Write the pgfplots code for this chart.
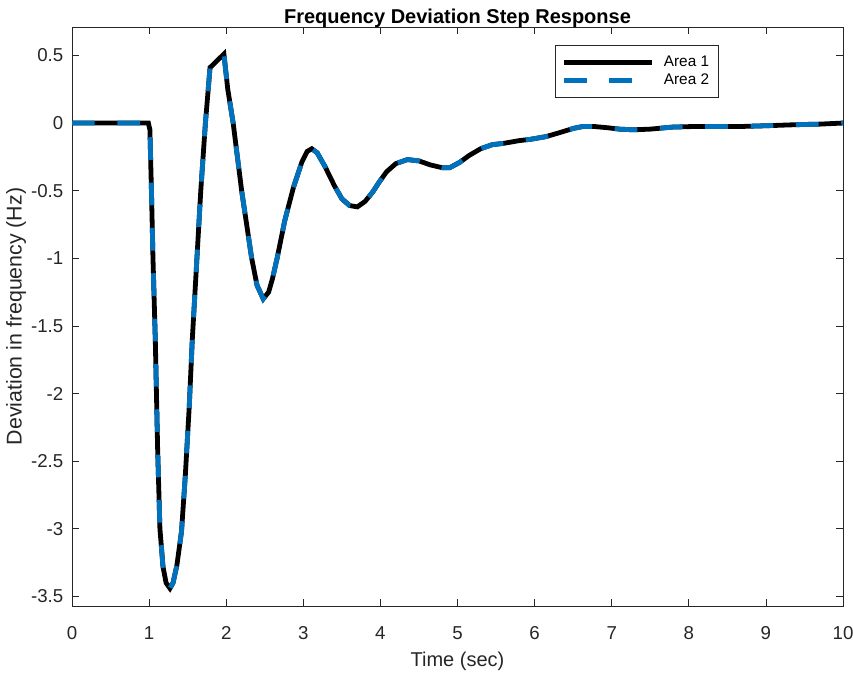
\documentclass[border=0pt]{standalone}
\usepackage{pgfplots}
\pgfplotsset{compat=1.18}
\usepackage{fontspec}
\setmainfont{Liberation Sans}
\definecolor{mblue}{RGB}{0,114,189}
\definecolor{axgray}{RGB}{38,38,38}

\pgfplotstableread{
t y
0 0
0.99 0
1.01 -0.05
1.03 -0.5
1.05 -1.0
1.08 -1.6
1.11 -2.4
1.14 -3.0
1.18 -3.28
1.22 -3.40
1.27 -3.44
1.31 -3.40
1.36 -3.27
1.42 -3.02
1.47 -2.6
1.52 -2.1
1.56 -1.6
1.62 -1.0
1.67 -0.5
1.73 0
1.79 0.41
1.97 0.51
2.02 0.25
2.09 0
2.20 -0.5
2.33 -1.0
2.40 -1.2
2.48 -1.30
2.55 -1.25
2.60 -1.15
2.66 -1.0
2.76 -0.72
2.87 -0.48
2.98 -0.29
3.05 -0.21
3.11 -0.19
3.18 -0.22
3.28 -0.32
3.40 -0.46
3.50 -0.56
3.60 -0.61
3.70 -0.62
3.80 -0.58
3.90 -0.51
3.98 -0.44
4.08 -0.36
4.20 -0.30
4.35 -0.27
4.50 -0.28
4.65 -0.31
4.80 -0.33
4.90 -0.33
5.03 -0.29
5.15 -0.24
5.30 -0.19
5.45 -0.16
5.60 -0.15
5.80 -0.13
5.95 -0.12
6.15 -0.10
6.33 -0.07
6.50 -0.04
6.63 -0.025
6.76 -0.025
6.95 -0.035
7.10 -0.045
7.28 -0.05
7.50 -0.045
7.79 -0.03
8.10 -0.025
8.40 -0.025
8.70 -0.025
9.00 -0.02
9.40 -0.012
9.70 -0.008
10 0
}\freqdata

\begin{document}
\begin{tikzpicture}
\begin{axis}[
    name=ax,
    scale only axis,
    width=578pt, height=434pt,
    xmin=0, xmax=10,
    ymin=-3.57, ymax=0.71,
    xtick={0,1,...,10},
    ytick={-3.5,-3,-2.5,-2,-1.5,-1,-0.5,0,0.5},
    yticklabels={-3.5,-3,-2.5,-2,-1.5,-1,-0.5,0,0.5},
    tick align=inside,
    major tick length=5pt,
    axis line style={axgray, line width=0.6pt},
    every tick/.style={axgray, line width=0.6pt},
    tick label style={font=\fontsize{14}{16}\selectfont, text=axgray},
    xticklabel style={yshift=-12pt},
    yticklabel style={xshift=-3pt},
    /pgf/number format/assume math mode=true,
    xlabel={Time (sec)},
    ylabel={Deviation in frequency (Hz)},
    xlabel style={font=\fontsize{15}{17}\selectfont, text=axgray, yshift=-2pt},
    ylabel style={font=\fontsize{16}{18}\selectfont, text=axgray, yshift=-3pt},
    title={\textbf{Frequency Deviation Step Response}},
    title style={font=\fontsize{15}{17}\selectfont, yshift=-10pt},
    legend cell align=left,
    legend style={at={(0.626,0.969)}, anchor=north west,
        draw=axgray, line width=0.6pt,
        font=\fontsize{11.5}{13.5}\selectfont,
        inner xsep=5pt, inner ysep=6pt, row sep=0pt},
    legend image code/.code={
        \draw[#1] (0pt,0pt) -- (66pt,0pt);
        \path (71pt,0pt);
    },
]
\addplot[black, line width=3.6pt] table[x=t, y=y] {\freqdata};
\addlegendentry{Area 1}
\addplot[mblue, line width=3.6pt, dash pattern=on 17pt off 17pt] table[x=t, y=y] {\freqdata};
\addlegendentry{Area 2}
\end{axis}
\pgfresetboundingbox
\path (ax.south west) ++(-54pt,-50.5pt) coordinate (bl);
\path (ax.north east) ++(7.5pt,20.25pt) coordinate (tr);
\path (bl) rectangle (tr);
\end{tikzpicture}
\end{document}
